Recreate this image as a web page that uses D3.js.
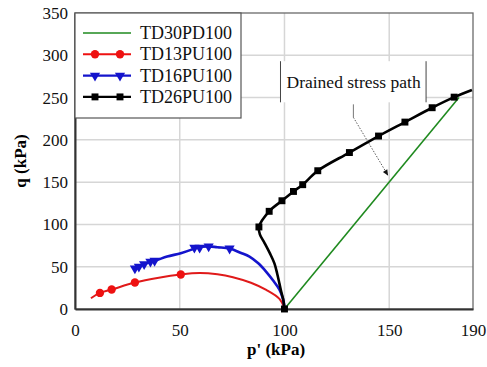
<!DOCTYPE html>
<html>
<head>
<meta charset="utf-8">
<script src="https://cdn.jsdelivr.net/npm/d3@7"></script>
<style>
  body { margin: 0; background: #fff; }
</style>
</head>
<body>
<div id="chart"></div>
<script>
const xTicks = [0, 50, 100, 150, 190];
const yTicks = [0, 50, 100, 150, 200, 250, 300, 350];

const seriesNames = ["TD30PD100", "TD13PU100", "TD16PU100", "TD26PU100"];

// drained path (line only)
const td30Line = [[100, 0], [183.3, 250]];

const td13Line = [[7.6, 12.7], [11.9, 19], [17.5, 23], [28.6, 31.3], [40, 37], [50.5, 40.8], [59.5, 42.5],
  [68, 41], [75.4, 37.6], [84, 31], [91.3, 22.5], [97.6, 12], [100, 1]];
const td13Marks = [[11.9, 19], [17.5, 23], [28.6, 31.3], [50.5, 40.8]];

const td16Line = [[28.6, 47], [31, 50.5], [33.3, 53], [36.5, 56.5], [38.5, 57.5], [44, 62], [50.5, 66],
  [56, 70.5], [58, 72.5], [63.5, 74], [68, 73], [73.8, 71.5], [79, 66.5], [83.3, 62], [87.5, 54],
  [91.3, 44], [94.5, 34], [97.6, 23], [99.3, 12], [100, 2]];
const td16Marks = [[28.6, 48], [30.5, 50], [33, 53], [36, 56], [38, 57], [57, 72.5], [59.5, 72.5], [63.8, 74], [73.8, 71.5]];

const td26Line = [[100, 0], [99.5, 10], [98.5, 20], [97.6, 30], [96.5, 42], [95.2, 54], [93, 66], [90.5, 78],
  [88.3, 88], [87.8, 97], [92.7, 115.5], [98.8, 128], [104.3, 139], [108.7, 147], [115.9, 163.5], [131, 185],
  [144.9, 204.5], [157.5, 221], [170.5, 238], [181, 250.5], [189.5, 259]];
const td26Marks = [[100, 0], [87.8, 97], [92.7, 115.5], [98.8, 128], [104.3, 139], [108.7, 147], [115.9, 163.5],
  [131, 185], [144.9, 204.5], [157.5, 221], [170.5, 238], [181, 250.5]];

const annotText = "Drained stress path";

const width = 487, height = 367;
const margin = { top: 13, right: 14, bottom: 58, left: 75 };
const serif = '"Liberation Serif"';

const svg = d3.select("#chart").append("svg")
  .attr("width", width)
  .attr("height", height);

const x = d3.scaleLinear().domain([0, 190]).range([margin.left, width - margin.right]);
const y = d3.scaleLinear().domain([0, 350]).range([height - margin.bottom, margin.top]);

// grid
svg.append("g")
  .selectAll("line")
  .data(xTicks.slice(1, -1))
  .join("line")
  .attr("x1", d => x(d)).attr("x2", d => x(d))
  .attr("y1", y(0)).attr("y2", y(350))
  .attr("stroke", "#d6d6d6").attr("stroke-width", 1.5);

svg.append("g")
  .selectAll("line")
  .data(yTicks.slice(1, -1))
  .join("line")
  .attr("x1", x(0)).attr("x2", x(190))
  .attr("y1", d => y(d)).attr("y2", d => y(d))
  .attr("stroke", "#d6d6d6").attr("stroke-width", 1.5);

// frame
svg.append("rect")
  .attr("x", x(0)).attr("y", y(350))
  .attr("width", x(190) - x(0)).attr("height", y(0) - y(350))
  .attr("fill", "none").attr("stroke", "#6a6a6a").attr("stroke-width", 1.3);

// axes
const xAxis = svg.append("g")
  .attr("transform", `translate(0,${y(0)})`)
  .call(d3.axisBottom(x).tickValues(xTicks).tickSize(0).tickPadding(15));
const yAxis = svg.append("g")
  .attr("transform", `translate(${x(0)},0)`)
  .call(d3.axisLeft(y).tickValues(yTicks).tickSize(0).tickPadding(7));

[xAxis, yAxis].forEach(a => {
  a.attr("font-family", null).attr("font-size", null);
  a.select(".domain").attr("stroke", "#333").attr("stroke-width", 2);
  a.selectAll("text").style("font-family", serif).attr("font-size", 17).attr("fill", "#111");
});

// titles
svg.append("text")
  .attr("x", 276).attr("y", 355)
  .attr("text-anchor", "middle")
  .style("font-family", serif)
  .attr("font-size", 17).attr("font-weight", "bold")
  .text("p' (kPa)");

svg.append("text")
  .attr("transform", `translate(26,${(y(0) + y(350)) / 2}) rotate(-90)`)
  .attr("text-anchor", "middle")
  .style("font-family", serif)
  .attr("font-size", 17).attr("font-weight", "bold")
  .text("q (kPa)");

const line = d3.line().x(d => x(d[0])).y(d => y(d[1])).curve(d3.curveCatmullRom);

const plot = svg.append("g");

plot.append("path").datum(td30Line)
  .attr("d", d3.line().x(d => x(d[0])).y(d => y(d[1])))
  .attr("fill", "none").attr("stroke", "#1f8a1f").attr("stroke-width", 1.6);

plot.append("path").datum(td13Line)
  .attr("d", line).attr("fill", "none").attr("stroke", "#e01a1a").attr("stroke-width", 2);

plot.append("path").datum(td16Line)
  .attr("d", line).attr("fill", "none").attr("stroke", "#1414cc").attr("stroke-width", 2.6);

plot.append("path").datum(td26Line)
  .attr("d", line).attr("fill", "none").attr("stroke", "#000").attr("stroke-width", 2.6);

const circle = d3.symbol().type(d3.symbolCircle).size(55);
const tri = d3.symbol().type(d3.symbolTriangle).size(45);
const square = d3.symbol().type(d3.symbolSquare).size(48);

plot.selectAll("path.m13").data(td13Marks).join("path")
  .attr("d", circle)
  .attr("transform", d => `translate(${x(d[0])},${y(d[1])})`)
  .attr("fill", "#ee1111");

plot.selectAll("path.m16").data(td16Marks).join("path")
  .attr("d", tri)
  .attr("transform", d => `translate(${x(d[0])},${y(d[1])}) rotate(180)`)
  .attr("fill", "#1414cc");

plot.selectAll("path.m26").data(td26Marks).join("path")
  .attr("d", square)
  .attr("transform", d => `translate(${x(d[0])},${y(d[1])})`)
  .attr("fill", "#000");

// annotation
const ann = svg.append("g");
ann.append("rect")
  .attr("x", x(98.1)).attr("y", y(293))
  .attr("width", x(167.6) - x(98.1)).attr("height", y(244.4) - y(293))
  .attr("fill", "#fff");
[98.1, 167.6].forEach(p => {
  ann.append("line")
    .attr("x1", x(p)).attr("x2", x(p))
    .attr("y1", y(293)).attr("y2", y(244.4))
    .attr("stroke", "#444").attr("stroke-width", 1);
});
ann.append("text")
  .attr("x", x(133)).attr("y", y(261))
  .attr("text-anchor", "middle")
  .style("font-family", serif)
  .attr("font-size", 17.5).attr("fill", "#111")
  .text(annotText);
ann.append("line")
  .attr("x1", x(132.9)).attr("x2", x(132.9))
  .attr("y1", y(242)).attr("y2", y(226.6))
  .attr("stroke", "#777").attr("stroke-width", 1);
ann.append("line")
  .attr("x1", x(132.9)).attr("y1", y(226.6))
  .attr("x2", x(149.3)).attr("y2", y(158.5))
  .attr("stroke", "#333").attr("stroke-width", 0.8).attr("stroke-dasharray", "1.5,1.5");
{
  const tx = x(149.5), ty = y(157.5);
  const ang = Math.atan2(ty - y(226.6), tx - x(132.9));
  const L = 6, W = 2.5;
  const bx = tx - L * Math.cos(ang), by = ty - L * Math.sin(ang);
  ann.append("path")
    .attr("d", `M${tx},${ty}L${bx + W * Math.sin(ang)},${by - W * Math.cos(ang)}L${bx - W * Math.sin(ang)},${by + W * Math.cos(ang)}Z`)
    .attr("fill", "#111");
}

// legend
const lg = svg.append("g");
lg.append("rect")
  .attr("x", x(0)).attr("y", y(350))
  .attr("width", 166).attr("height", 105)
  .attr("fill", "#fff").attr("stroke", "#555").attr("stroke-width", 1.2);

const legendStyle = [
  { color: "#1f8a1f", sym: null, w: 1.6 },
  { color: "#ee1111", sym: circle, w: 2, rot: 0 },
  { color: "#1414cc", sym: tri, w: 2.4, rot: 180 },
  { color: "#000", sym: square, w: 2.4, rot: 0 }
];
seriesNames.forEach((name, i) => {
  const cy = 33 + i * 21.3;
  const st = legendStyle[i];
  lg.append("line").attr("x1", 83).attr("x2", 131).attr("y1", cy).attr("y2", cy)
    .attr("stroke", st.color).attr("stroke-width", st.w);
  if (st.sym) {
    [95, 120].forEach(mx => {
      lg.append("path").attr("d", st.sym)
        .attr("transform", `translate(${mx},${cy}) rotate(${st.rot})`)
        .attr("fill", st.color);
    });
  }
  lg.append("text").attr("x", 140).attr("y", cy + 6)
    .style("font-family", serif)
    .attr("font-size", 18).attr("fill", "#111")
    .text(name);
});
</script>
</body>
</html>
